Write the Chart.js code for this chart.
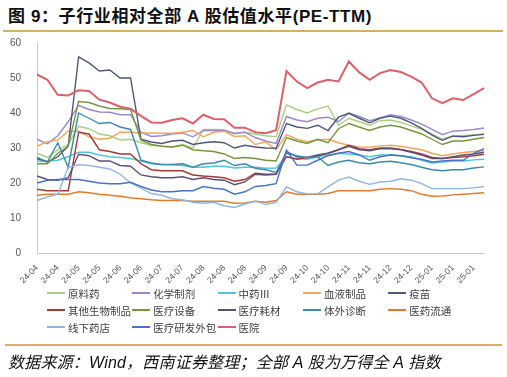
<!DOCTYPE html>
<html>
<head>
<meta charset="utf-8">
<script src="https://cdn.jsdelivr.net/npm/chart.js@4/dist/chart.umd.min.js"></script>
<style>
  html, body { margin: 0; padding: 0; background: #fff; }
  body { width: 507px; height: 377px; position: relative; overflow: hidden; font-family: "Liberation Sans", "Noto Sans CJK SC", sans-serif; }
  #title { position: absolute; left: 8px; top: 2px; font-size: 17px; letter-spacing: 0.6px; font-weight: bold; color: #111; white-space: nowrap; font-family: "Liberation Sans", "Noto Sans CJK SC", sans-serif; }
  .gold { position: absolute; height: 2px; background: #d8ae66; }
  #chartBox { position: absolute; left: 0; top: 0; width: 507px; height: 285px; }
  #legend { position: absolute; left: 0; top: 0; width: 507px; height: 377px; pointer-events: none; }
  .lg { position: absolute; display: flex; align-items: center; font-size: 10.5px; color: #404040; white-space: nowrap; font-family: "Noto Sans CJK SC", sans-serif; }
  .lg span.ln { display: inline-block; width: 18px; height: 1.6px; margin-right: 3px; }
  #source { position: absolute; left: 8px; top: 349px; font-size: 16px; letter-spacing: 0.2px; font-style: italic; color: #111; white-space: nowrap; font-family: "Liberation Sans", "Noto Sans CJK SC", sans-serif; }
</style>
</head>
<body>
<div id="title">图 9：子行业相对全部 A 股估值水平(PE-TTM)</div>
<div class="gold" style="left:3px; top:30px; width:500px;"></div>
<div id="chartBox"><canvas id="c" width="507" height="285"></canvas></div>
<div id="legend"></div>
<div class="gold" style="left:5px; top:344px; width:497px;"></div>
<div id="source">数据来源：Wind，西南证券整理；全部 A 股为万得全 A 指数</div>
<script>
const labels = ['24-04','24-04','24-04','24-05','24-05','24-05','24-05','24-05','24-06','24-06','24-06','24-06',
  '24-07','24-07','24-07','24-07','24-08','24-08','24-08','24-08','24-08','24-09','24-09','24-09','24-09',
  '24-10','24-10','24-10','24-10','24-11','24-11','24-11','24-11','24-11','24-12','24-12','24-12','24-12',
  '25-01','25-01','25-01','25-01','25-01','25-02'];
const yTicks = [0, 10, 20, 30, 40, 50, 60];

const seriesNames = ['原料药','化学制剂','中药Ⅲ','血液制品','疫苗','其他生物制品','医疗设备','医疗耗材','体外诊断','医药流通','线下药店','医疗研发外包','医院'];

const yuanliaoyao = [28.5,27.3,29.5,31,36.2,35.5,34,33.5,32.3,32.5,31.5,30.8,30.5,30.3,31,30,35.3,35.3,35.2,34,34.5,34,33.5,33.2,42.3,41,40,41.2,42,36.5,38.5,37.5,36.5,37.8,38,37.3,36.3,35.3,34,32.5,33.5,33.5,33.8,34];
const huaxuezhiji = [32.5,31.2,33.5,37.5,42.2,41,40.3,40.2,39.5,39.5,34.5,33.3,33.5,34,34.3,33.2,35,35,35,34.2,34.5,33,32,31.3,39,38,37.5,38.5,38.8,37.5,40,39,37.8,38.6,39.5,39,38,36.8,35.3,33.8,34.8,35,35.3,35.7];
const zhongyao = [26.3,26.2,26.5,27.5,28.8,28.8,28,27.5,27.3,27,26.3,25.5,25.3,25.2,25,24.5,24.5,24.8,24.8,24.3,24.5,24.5,24.2,24.3,27.5,27,26.8,27.5,28,28.5,28.3,28,27.5,28,28,27.8,27.5,26.5,25.7,26,26.3,26.3,26.6,26.8];
const xueye = [30.5,31.8,32.3,34.8,34.8,33.2,32.5,32.8,34.5,34.5,34.3,34.3,34.2,34.2,34.5,35,33.2,34.5,34.8,33.3,33.5,31,31.8,29.5,33.8,32.5,31.8,32.3,32.5,31.5,30.8,30.3,30.2,30.6,30.8,30.5,30,29.5,28.5,27.8,28.3,28.7,29,29.3];
const yimiao = [27,26,27.5,30.5,56,54.3,52,52.3,50,50,32.5,31.7,31.3,32,32.2,31,31.5,31.8,31.5,30,30.8,30.3,30,29.9,37,36,35.6,36.5,35,38.8,39.9,38.5,37.2,38.5,39.1,38.5,37.2,35.6,33.7,32.2,33.4,33.2,33.6,33.9];
const qitashengwu = [18.2,17.8,17.8,17.8,34.5,34,29.5,29,28.3,28.3,25.5,23.8,23.5,23.5,23.5,22.3,22,21.8,21.5,20.5,21,22.8,22.5,22.5,27.5,26.8,27.3,27.8,28.5,29.5,30.8,29.8,29.5,30,30,29.6,29,28.3,27.3,27,27.3,27.5,27.8,28.2];
const yiliaoshebei = [25.5,25.5,28.5,30.5,43.3,43,42,41.3,41.2,41,32.2,31,30.5,30.3,30.8,29.5,29.2,29,28.3,27,27.3,27,26.5,26.3,33,32,31.3,32.5,31.5,35.5,37,36,35,36,36.5,36,35,34,32.5,31,32,32,32.5,33];
const yiliaohaocai = [22,21,20.8,21.5,28.2,27.8,26.3,26.3,25,24.8,22.3,21.8,21.5,21.5,21.8,21,21.5,21,20.8,19.5,20.3,22.5,22.3,22.5,29,27.5,27.3,28,28.5,29.5,30.5,29.5,29.2,29.8,29.8,29.5,28.8,28,27,27,27.5,28,28.3,28.8];
const tiwaizhenduan = [27.3,26,31.5,24.5,40,38.5,37,37.3,36,35.3,26.5,25.7,25.3,25.3,25.5,24.5,25.5,25.7,26.5,25,25.5,24.2,23.8,23,28.5,27.8,27.2,27.5,25,26,26.5,25.8,25.5,26,26.2,25.8,25.3,24.5,23.8,23.5,23.8,23.8,24.3,24.6];
const yiyaoliutong = [16.5,16.8,16.8,16.8,17.5,17.2,16.8,16.5,16.2,15.8,15.5,15.2,15,15,15,14.8,14.8,14.8,14.8,14.2,14.3,14.8,14.5,15,17.5,16.8,16.8,16.8,17,17.8,17.8,17.8,17.8,18.2,18.4,18.2,17.8,16.8,16.2,16.3,16.6,16.8,17,17.2];
const xianxiayaodian = [15,16,16.8,24.5,25.2,25,24.5,24,22.5,20,18.5,17,16.5,15.5,15.2,14.5,14.2,14.5,13.5,13,14,14.8,13.9,14.5,18.9,17.5,16.9,16.9,18.9,20.8,21.7,20.5,19.6,20.3,20.5,21.2,20.8,19.8,18.4,18.4,18.4,18.4,18.6,19];
const yanfawaibao = [20,20.8,21,21,21,20.5,20,19.8,19.8,20.2,19,18,17.5,17.5,17.8,17.8,19,18.5,18.2,16.8,17.5,19,19.3,19.8,29.4,25.1,25.1,26.5,27.8,28.5,29,28,26.5,27.5,28,27.8,27.2,26.8,26,26.3,26.5,26.5,28.5,29.8];
const yiyuan = [51,49.5,45.2,45,46.5,46.3,43.8,43,41.8,41.2,39.2,37.3,37.2,38,38.5,37,39.5,38.3,38.2,35.8,35.8,34.5,34.2,35.1,52,49,47.1,48.7,49.5,49,54.7,51.6,49.5,51.4,52.3,51.7,50.4,48.7,44.2,42.8,44.2,43.7,45.4,47.1];

const seriesData = [yuanliaoyao, huaxuezhiji, zhongyao, xueye, yimiao, qitashengwu, yiliaoshebei, yiliaohaocai, tiwaizhenduan, yiyaoliutong, xianxiayaodian, yanfawaibao, yiyuan];
const seriesColors = ['#a9cf82','#9b88cc','#4fc5dc','#f5a55a','#4d5878','#a33a33','#77953d','#5e4f78','#3a8ab0','#e27a2e','#8fb5e3','#4673c3','#d9626a'];
const seriesWidths = [1.4,1.4,1.4,1.4,1.4,1.4,1.4,1.4,1.4,1.4,1.4,1.4,2];

const datasets = seriesNames.map((n, k) => ({
  label: n,
  data: seriesData[k],
  borderColor: seriesColors[k],
  backgroundColor: seriesColors[k],
  borderWidth: seriesWidths[k],
  pointRadius: 0,
  tension: 0,
  fill: false
}));
datasets.forEach((d, k) => { d.order = (k === 12) ? 0 : 13 - k; });

new Chart(document.getElementById('c'), {
  type: 'line',
  data: { labels: labels, datasets: datasets },
  options: {
    responsive: false,
    animation: false,
    events: [],
    layout: { padding: { top: 43, right: 23, left: 0, bottom: 0 }, autoPadding: false },
    plugins: { legend: { display: false }, tooltip: { enabled: false } },
    scales: {
      x: {
        type: 'category',
        offset: false,
        grid: { display: false },
        border: { display: true, color: '#c8c8c8', width: 1 },
        ticks: {
          autoSkip: false,
          maxRotation: 45,
          minRotation: 45,
          padding: 2,
          font: { size: 8.5, family: 'Liberation Sans' },
          color: '#555',
          callback: function(v, i) { return i % 2 === 0 ? labels[i] : ''; }
        },
        afterFit: function(s) { s.height = 32; }
      },
      y: {
        min: 0,
        max: 60,
        grid: { display: false },
        border: { display: true, color: '#c8c8c8', width: 1 },
        afterBuildTicks: function(s) { s.ticks = yTicks.map(v => ({ value: v })); },
        ticks: {
          padding: 8,
          font: { size: 10, family: 'Liberation Sans' },
          color: '#555'
        },
        afterFit: function(s) { s.width = 37; }
      }
    }
  }
});

const lg = document.getElementById('legend');
const rowsY = [293, 310, 327];
seriesNames.forEach((n, k) => {
  const row = Math.floor(k / 5), col = k % 5;
  const d = document.createElement('div');
  d.className = 'lg';
  d.style.left = (47 + col * 85.3) + 'px';
  d.style.top = (rowsY[row] - 8) + 'px';
  d.style.height = '16px';
  d.innerHTML = '<span class="ln" style="background:' + seriesColors[k] + '"></span>' + n;
  lg.appendChild(d);
});
</script>
</body>
</html>
